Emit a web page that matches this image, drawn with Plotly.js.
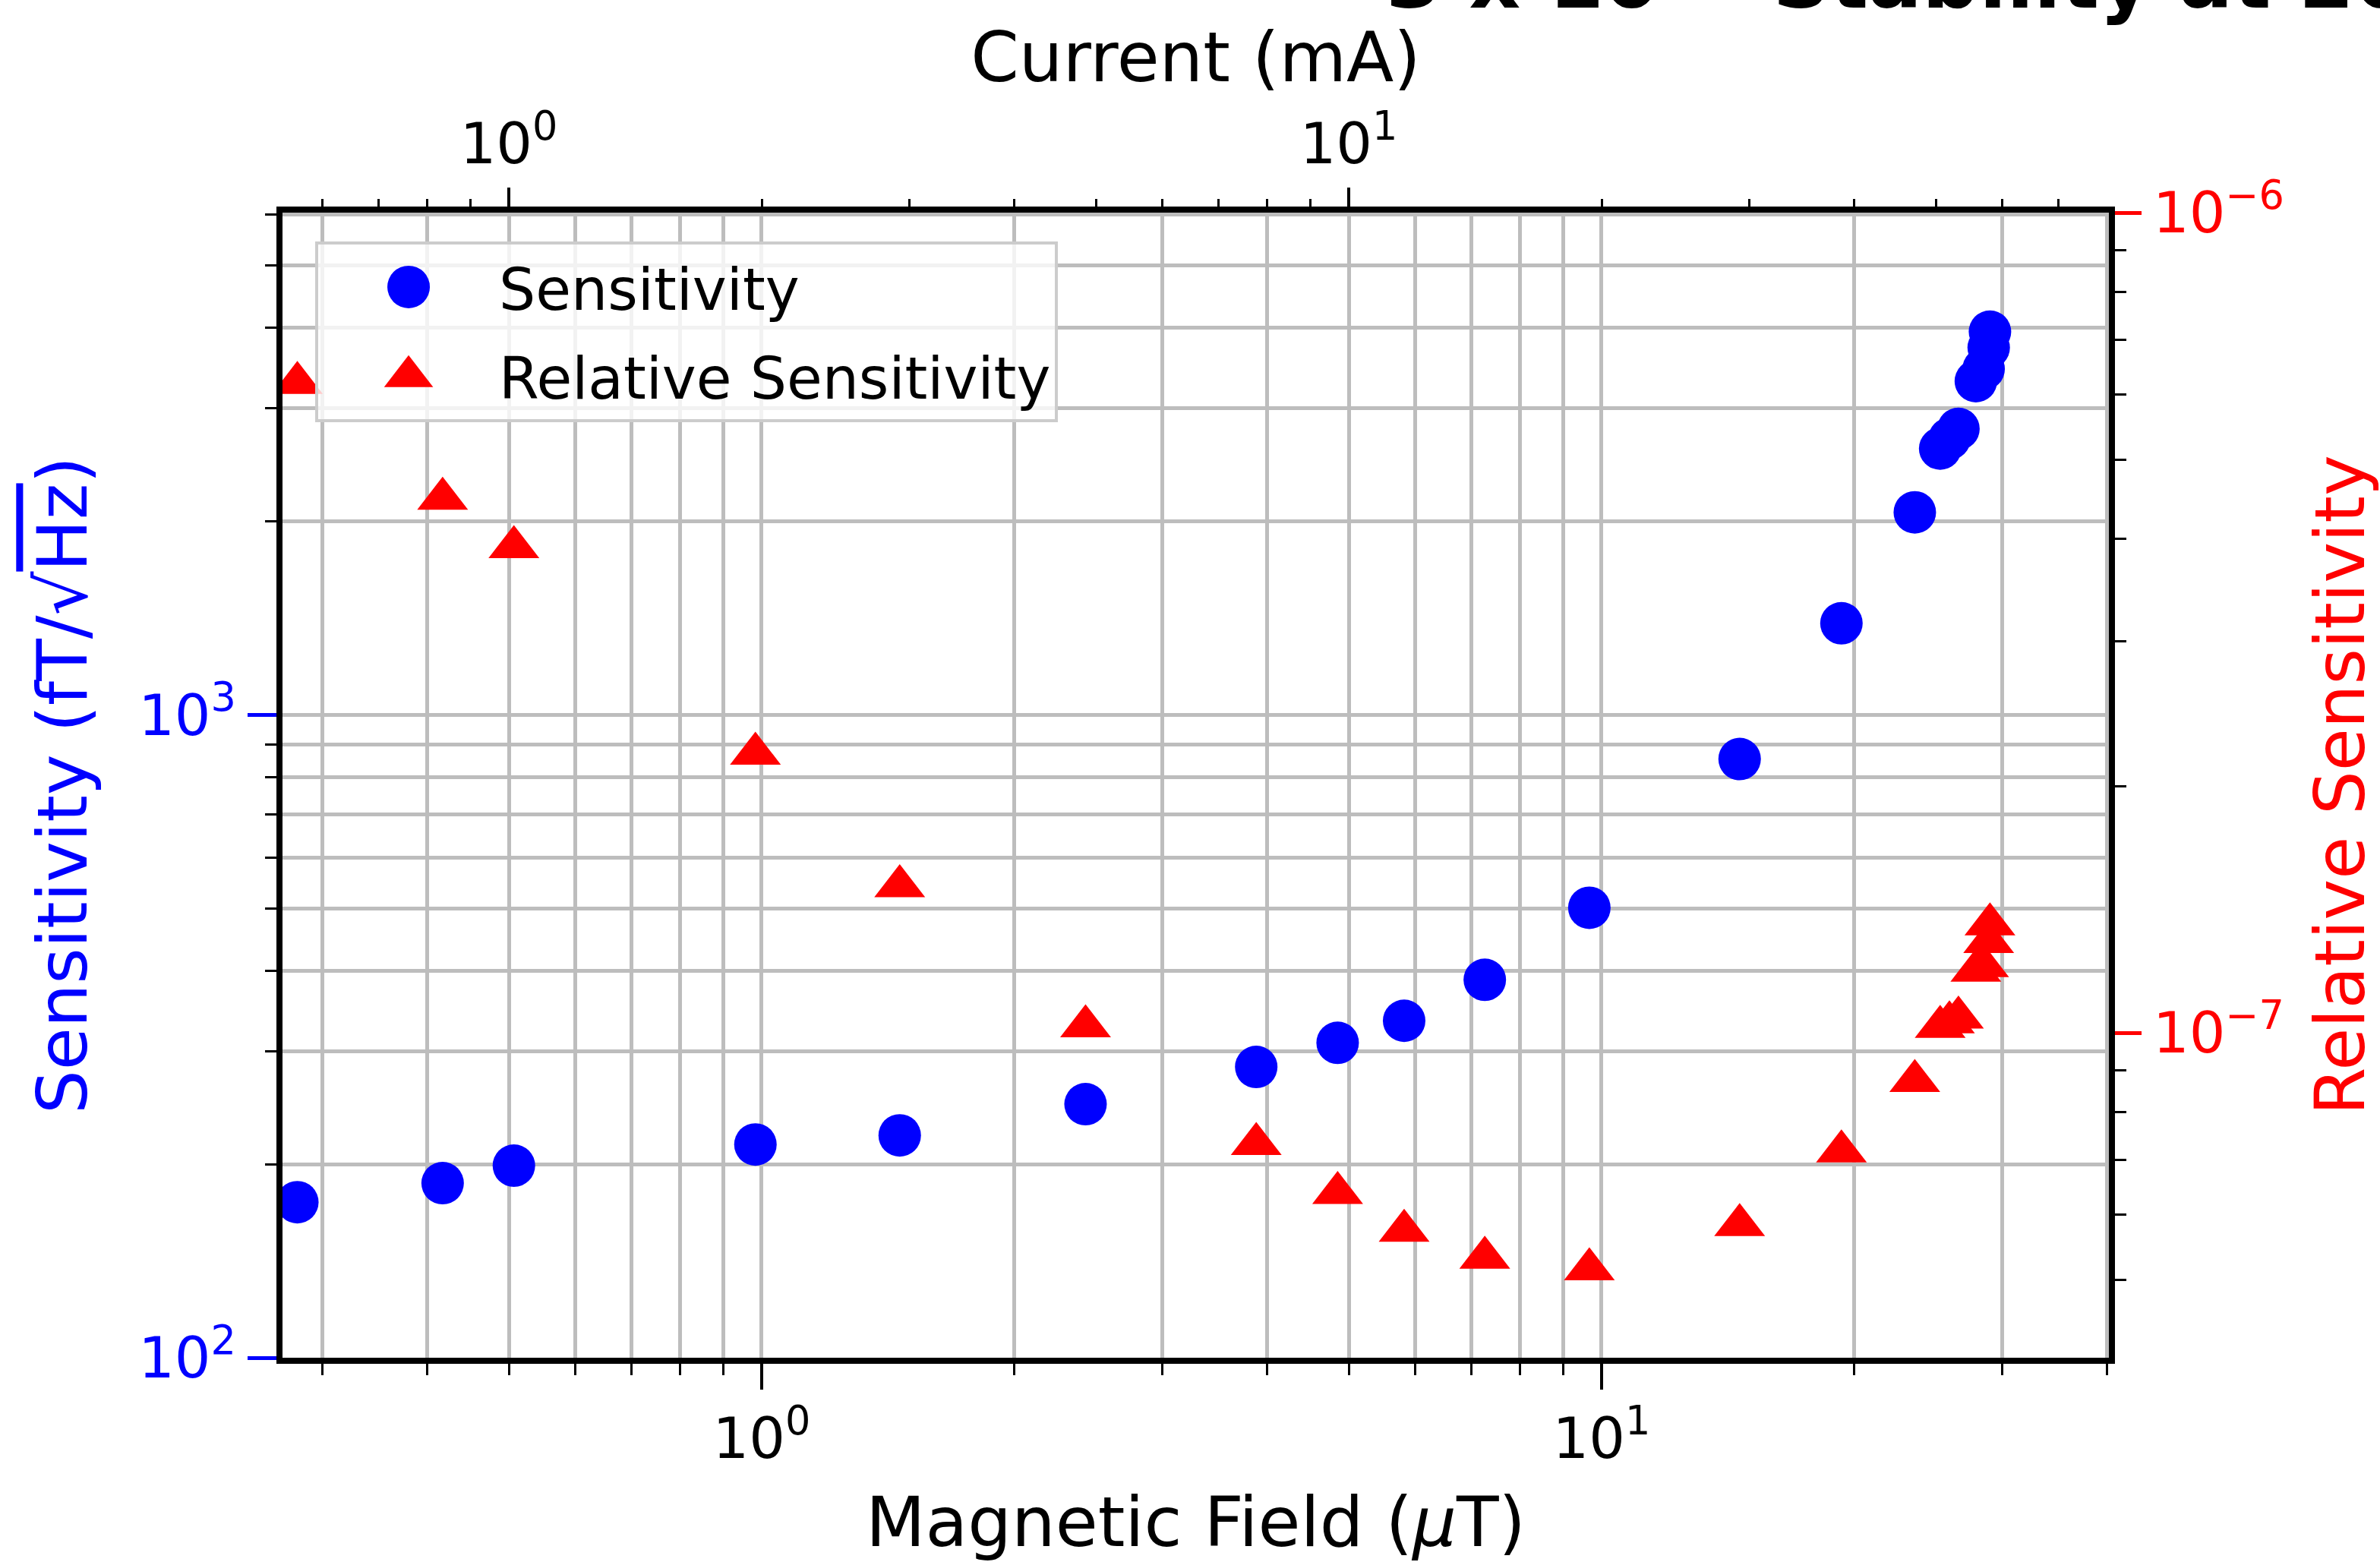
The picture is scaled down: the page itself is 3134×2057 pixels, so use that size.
<!DOCTYPE html>
<html>
<head>
<meta charset="utf-8">
<script src="https://cdn.plot.ly/plotly-3.0.1.min.js"></script>
<style>
html, body { margin: 0; padding: 0; background: #ffffff; }
#chart { width: 3134px; height: 2057px; }
</style>
</head>
<body>
<div id="chart"></div>
<script>
// ---- data ----
const fieldUT = [0.28, 0.417, 0.507, 0.983, 1.46, 2.43, 3.88, 4.85, 5.82, 7.26, 9.67,
                 14.6, 19.3, 23.6, 25.3, 25.95, 26.6, 27.9, 28.5, 28.9, 29.0];
const sensitivity = [174.6, 186.9, 199.0, 214.7, 221.8, 248.0, 283.4, 309.0, 334.4, 387.3, 501.3,
                     854, 1389, 2067, 2597, 2690, 2787, 3307, 3454, 3728, 3947];
const relSensitivity = [6.20e-7, 4.48e-7, 3.91e-7, 2.19e-7, 1.51e-7, 1.019e-7, 7.32e-8, 6.38e-8, 5.74e-8, 5.32e-8, 5.15e-8,
                        5.83e-8, 7.17e-8, 8.74e-8, 1.017e-7, 1.03e-7, 1.044e-7, 1.191e-7, 1.206e-7, 1.291e-7, 1.356e-7];

// ---- tick labels ----
const xTickVals = [1, 10];
const xTickText = ['10<sup>0</sup>', '10<sup>1</sup>'];
const xMinorVals = [0.3, 0.4, 0.5, 0.6, 0.7, 0.8, 0.9, 2, 3, 4, 5, 6, 7, 8, 9, 20, 30, 40];
const topTickVals = [1, 10];
const topTickText = ['10<sup>0</sup>', '10<sup>1</sup>'];
const topMinorVals = [0.6, 0.7, 0.8, 0.9, 2, 3, 4, 5, 6, 7, 8, 9, 20, 30, 40, 50, 60, 70];
const yTickVals = [100, 1000];
const yTickText = ['10<sup>2</sup>', '10<sup>3</sup>'];
const yMinorVals = [200, 300, 400, 500, 600, 700, 800, 900, 2000, 3000, 4000, 5000, 6000];
const y2TickVals = [1e-7, 1e-6];
const y2TickText = ['10<sup>\u22127</sup>', '10<sup>\u22126</sup>'];
const y2MinorVals = [4e-8, 5e-8, 6e-8, 7e-8, 8e-8, 9e-8, 2e-7, 3e-7, 4e-7, 5e-7, 6e-7, 7e-7, 8e-7, 9e-7];

const FONT = 'DejaVu Sans';
const GRID = '#bdbdbd';

const traces = [
  {
    x: fieldUT, y: sensitivity, xaxis: 'x', yaxis: 'y',
    type: 'scatter', mode: 'markers', name: 'Sensitivity',
    legendgroup: 'a',
    marker: { symbol: 'circle', size: 56, color: '#0000ff', line: { width: 0 } }
  },
  {
    x: fieldUT, y: relSensitivity, xaxis: 'x', yaxis: 'y2',
    type: 'scatter', mode: 'markers', name: 'Relative Sensitivity',
    legendgroup: 'b',
    marker: { symbol: 'triangle-up', size: 58, color: '#ff0000', line: { width: 0 } }
  },
  {
    x: [], y: [], xaxis: 'x2', yaxis: 'y', type: 'scatter', mode: 'markers',
    showlegend: false, hoverinfo: 'skip'
  }
];

const layout = {
  width: 3134, height: 2057,
  margin: { l: 372, r: 357, t: 280, b: 269, pad: 0 },
  paper_bgcolor: '#ffffff', plot_bgcolor: '#ffffff',
  font: { family: FONT, size: 75, color: '#000000' },
  showlegend: true,
  legend: {
    x: 0.0179, y: 0.9748, xanchor: 'left', yanchor: 'top',
    bgcolor: 'rgba(255,255,255,0.8)', bordercolor: '#cccccc', borderwidth: 4,
    font: { family: FONT, size: 76, color: '#000000' },
    itemwidth: 228, traceorder: 'grouped', tracegroupgap: 16
  },
  title: {
    text: '3 x 10<sup>\u22128</sup> Stability at 20 \u03bcT',
    font: { family: FONT, size: 105, color: '#000000', weight: 'bold' },
    xref: 'container', x: 1825 / 3134, xanchor: 'left',
    yref: 'container', y: 1 - 10 / 2057, yanchor: 'bottom'
  },
  xaxis: {
    type: 'log', range: [-0.5705, 1.604], side: 'bottom', anchor: 'y',
    showline: true, linecolor: '#000000', linewidth: 8, mirror: false, zeroline: false,
    ticks: 'outside', ticklen: 34, tickwidth: 4, tickcolor: '#000000',
    tickmode: 'array', tickvals: xTickVals, ticktext: xTickText,
    tickfont: { family: FONT, size: 75, color: '#000000' },
    showgrid: true, gridcolor: GRID, gridwidth: 5,
    minor: { tickmode: 'array', tickvals: xMinorVals, ticks: 'outside', ticklen: 15, tickwidth: 3,
             tickcolor: '#000000', showgrid: true, gridcolor: GRID, gridwidth: 5 },
    title: { text: 'Magnetic Field (<i>\u03bc</i>T)', font: { family: FONT, size: 91, color: '#000000' }, standoff: 38 }
  },
  xaxis2: {
    type: 'log', range: [-0.2695, 1.905], side: 'top', anchor: 'y', overlaying: 'x',
    showline: true, linecolor: '#000000', linewidth: 8, zeroline: false,
    ticks: 'outside', ticklen: 25, tickwidth: 4, tickcolor: '#000000',
    tickmode: 'array', tickvals: topTickVals, ticktext: topTickText,
    tickfont: { family: FONT, size: 75, color: '#000000' },
    ticklabelstandoff: 2,
    showgrid: false,
    minor: { tickmode: 'array', tickvals: topMinorVals, ticks: 'outside', ticklen: 10, tickwidth: 3,
             tickcolor: '#000000', showgrid: false },
    title: { text: 'Current (mA)', font: { family: FONT, size: 91, color: '#000000' }, standoff: 0 }
  },
  yaxis: {
    type: 'log', range: [2, 3.7816], side: 'left', anchor: 'x',
    showline: true, linecolor: '#000000', linewidth: 8, zeroline: false,
    ticks: 'outside', ticklen: 38, tickwidth: 5, tickcolor: '#0000ff',
    tickmode: 'array', tickvals: yTickVals, ticktext: yTickText,
    tickfont: { family: FONT, size: 75, color: '#0000ff' },
    showgrid: true, gridcolor: GRID, gridwidth: 5,
    minor: { tickmode: 'array', tickvals: yMinorVals, ticks: 'outside', ticklen: 15, tickwidth: 3,
             tickcolor: '#000000', showgrid: true, gridcolor: GRID, gridwidth: 5 },
    title: { text: 'Sensitivity (fT/\u221a<span style="text-decoration:overline">Hz</span>)',
             font: { family: FONT, size: 91, color: '#0000ff' }, standoff: 40 }
  },
  yaxis2: {
    type: 'log', range: [-7.396, -6], side: 'right', anchor: 'x', overlaying: 'y',
    showline: true, linecolor: '#000000', linewidth: 8, zeroline: false,
    ticks: 'outside', ticklen: 35, tickwidth: 5, tickcolor: '#ff0000',
    tickmode: 'array', tickvals: y2TickVals, ticktext: y2TickText,
    tickfont: { family: FONT, size: 75, color: '#ff0000' },
    showgrid: false,
    minor: { tickmode: 'array', tickvals: y2MinorVals, ticks: 'outside', ticklen: 15, tickwidth: 3,
             tickcolor: '#000000', showgrid: false },
    title: { text: 'Relative Sensitivity', font: { family: FONT, size: 91, color: '#ff0000' }, standoff: 66 }
  }
};

function enlargeLegendSymbols() {
  document.querySelectorAll('#chart .legend .legendpoints path.scatterpts').forEach(function (p) {
    const t = p.getAttribute('transform') || '';
    if (t.indexOf('scale') === -1) p.setAttribute('transform', t + ' scale(3.5)');
  });
}

Plotly.newPlot('chart', traces, layout, { staticPlot: true, displayModeBar: false })
  .then(function (gd) {
    enlargeLegendSymbols();
    gd.on('plotly_afterplot', enlargeLegendSymbols);
  });
</script>
</body>
</html>
